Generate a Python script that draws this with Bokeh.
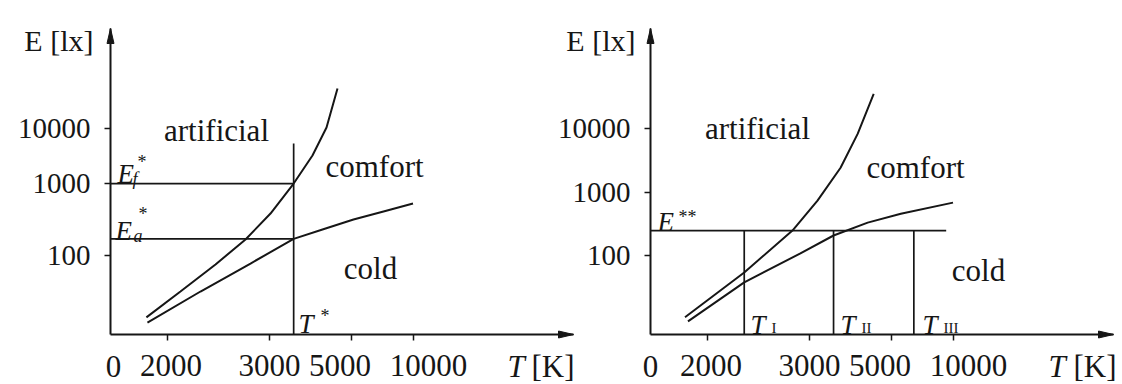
import numpy as np
from bokeh.plotting import figure
from bokeh.models import Range1d, FixedTicker, Label
from bokeh.layouts import row
from bokeh.embed import file_html
from bokeh.resources import INLINE

# ---------------- data ----------------
x_tick_T = [2000, 3000, 5000, 10000]
x_tick_labels = ["2000", "3000", "5000", "10000"]
y_tick_E = [100, 1000, 10000]
y_tick_labels = ["100", "1000", "10000"]

# left panel
left_T_star = 3400
left_Ef_star = 1000
left_Ea_star = 170
left_T_star_top_E = 5400
left_upper_T = [1874, 2091, 2374, 2685, 3014, 3400, 3795, 4155, 4488]
left_upper_E = [13.8, 31.6, 75.0, 167, 383, 1000, 3260, 10600, 54900]
left_lower_T = [1880, 2244, 2745, 3400, 4045, 5081, 6757, 10000]
left_lower_E = [11.7, 31.6, 77.4, 170, 230, 316, 409, 528]

# right panel
right_E2 = 248
right_T_marks = [2275, 3398, 6108]          # T_I, T_II, T_III
right_E2_end_T = 9000
right_upper_T = [1866, 2275, 2769, 3121, 3535, 3920, 4367]
right_upper_E = [10.6, 54, 248, 735, 2432, 8340, 35600]
right_lower_T = [1883, 2275, 2872, 3398, 4188, 5408, 10000]
right_lower_E = [9.1, 37.6, 108, 207, 331, 458, 684]

# ---------------- layout constants ----------------
X0, X1 = 592.0, -161.0        # reciprocal temperature (mired) at origin / arrow tip
YB, YT = 0.752, 5.586         # axis level at x axis / arrow tip
FW, FH = 463, 306             # axis lengths in pixels
AX_BOT, AX_TOP = 334, 28      # pixel rows of x axis and arrow tip
H = 384
FONT = "Liberation Serif"
INK = "#161616"
DXP = (X1 - X0) / FW          # data per pixel
DYP = (YT - YB) / FH
NB = "\u00a0"
PAD_L = [1, 0, 0, 4]          # label nudges (non-breaking spaces) as in the reference
PAD_R = [0, 0, 3, 0]


def mired(T):
    return 1e6 / np.asarray(T, dtype=float)


def level(E, lv):
    lg = np.log10(np.asarray(E, dtype=float))
    lo = lv[0] + (lg - 2) * (lv[1] - lv[0])
    hi = lv[1] + (lg - 3) * (lv[2] - lv[1])
    return np.where(lg < 3, lo, hi)


def make_fig(fig_left, width, origin_px, lv):
    xs = X0 + (fig_left - origin_px) * DXP
    xe = X0 + (fig_left + width - origin_px) * DXP
    yb = YB - (H - AX_BOT) * DYP
    yt = YB + AX_BOT * DYP
    p = figure(width=width, height=H, x_range=Range1d(xs, xe), y_range=Range1d(yb, yt),
               min_border=0, min_border_left=0, min_border_right=0,
               min_border_top=0, min_border_bottom=0,
               output_backend="svg", toolbar_location=None)
    p.grid.visible = False
    p.outline_line_color = None
    p.background_fill_alpha = 0
    p.border_fill_alpha = 0

    xt = [float(v) for v in mired(x_tick_T)]
    p.xaxis.ticker = FixedTicker(ticks=xt)
    p.xaxis.major_label_overrides = {
        v: NB * a + s + NB * b for v, s, a, b in zip(xt, x_tick_labels, PAD_L, PAD_R)}
    yt_ = [float(v) for v in level(y_tick_E, lv)]
    p.yaxis.ticker = FixedTicker(ticks=yt_)
    p.yaxis.major_label_overrides = {v: s for v, s in zip(yt_, y_tick_labels)}
    p.xaxis.fixed_location = YB
    p.yaxis.fixed_location = X0

    for ax in (p.xaxis, p.yaxis):
        ax.axis_line_color = None
        ax.major_tick_out = 6
        ax.major_tick_in = 0
        ax.minor_tick_out = 0
        ax.minor_tick_in = 0
        ax.major_tick_line_color = INK
        ax.major_tick_line_width = 1.5
        ax.major_label_text_font = FONT
        ax.major_label_text_color = INK
    p.xaxis.major_label_text_font_size = "31px"
    p.xaxis.major_label_standoff = 7
    p.yaxis.major_label_text_font_size = "29px"
    p.yaxis.major_label_standoff = 14

    # axis lines with arrow heads
    p.line([X0, X1], [YB, YB], line_color=INK, line_width=2)
    p.line([X0, X0], [YB, YT], line_color=INK, line_width=2)
    p.patch([X0 - 3.5 * DXP, X0, X0 + 3.5 * DXP], [YT - 15 * DYP, YT, YT - 15 * DYP],
            fill_color=INK, line_color=INK, line_width=1)
    p.patch([X1 - 15 * DXP, X1, X1 - 15 * DXP], [YB + 3.5 * DYP, YB, YB - 3.5 * DYP],
            fill_color=INK, line_color=INK, line_width=1)
    return p


def add_text(p, origin_px, text, px, py, size, align="left", baseline="middle", style="normal"):
    x = X0 + (px - origin_px) * DXP
    y = YB + (AX_BOT - py) * DYP
    p.add_layout(Label(x=x, y=y, text=text, text_font=FONT, text_font_size=f"{size}px",
                       text_font_style=style, text_align=align, text_baseline=baseline,
                       text_color=INK))


# ---------------- left panel ----------------
lvL = [2.0, 3.137, 4.0]
FL = 110
p1 = make_fig(0, 578, FL, lvL)
tS = float(mired(left_T_star))
p1.line([X0, tS], [float(level(left_Ef_star, lvL))] * 2, line_color=INK, line_width=1.7)
p1.line([X0, tS], [float(level(left_Ea_star, lvL))] * 2, line_color=INK, line_width=1.7)
p1.line([tS, tS], [YB, float(level(left_T_star_top_E, lvL))], line_color=INK, line_width=1.7)
p1.line(mired(left_upper_T), level(left_upper_E, lvL), line_color=INK, line_width=2)
p1.line(mired(left_lower_T), level(left_lower_E, lvL), line_color=INK, line_width=2)

add_text(p1, FL, "E [lx]", 93, 40, 30, align="right")
add_text(p1, FL, "artificial", 216, 130, 31, align="center")
add_text(p1, FL, "comfort", 374, 166, 31, align="center")
add_text(p1, FL, "cold", 370, 268, 31, align="center")
add_text(p1, FL, "0", 113, 366, 31, align="center")
add_text(p1, FL, "T", 507, 366, 31, style="italic")
add_text(p1, FL, "[K]", 531, 366, 31)
add_text(p1, FL, "E", 117, 173, 27, baseline="alphabetic", style="italic")
add_text(p1, FL, "f", 132, 178, 18, baseline="alphabetic", style="italic")
add_text(p1, FL, "*", 137, 161, 18, baseline="alphabetic")
add_text(p1, FL, "E", 115, 230, 27, baseline="alphabetic", style="italic")
add_text(p1, FL, "a", 133, 235, 18, baseline="alphabetic", style="italic")
add_text(p1, FL, "*", 138, 213, 18, baseline="alphabetic")
add_text(p1, FL, "T", 298, 323, 27, baseline="alphabetic", style="italic")
add_text(p1, FL, "*", 320, 315, 18, baseline="alphabetic")

# ---------------- right panel ----------------
lvR = [2.0, 3.0, 4.0]
FR = 650
p2 = make_fig(550, 572, FR, lvR)
p2.margin = (0, 0, 0, -28)
e2 = float(level(right_E2, lvR))
p2.line([X0, float(mired(right_E2_end_T))], [e2, e2], line_color=INK, line_width=1.7)
mT = mired(right_T_marks)
p2.segment(x0=mT, y0=[YB] * len(mT), x1=mT, y1=[e2] * len(mT), line_color=INK, line_width=1.7)
p2.line(mired(right_upper_T), level(right_upper_E, lvR), line_color=INK, line_width=2)
p2.line(mired(right_lower_T), level(right_lower_E, lvR), line_color=INK, line_width=2)

add_text(p2, FR, "E [lx]", 635, 40, 30, align="right")
add_text(p2, FR, "artificial", 757, 128, 31, align="center")
add_text(p2, FR, "comfort", 915, 167, 31, align="center")
add_text(p2, FR, "cold", 978, 270, 31, align="center")
add_text(p2, FR, "0", 650, 366, 31, align="center")
add_text(p2, FR, "T", 1048, 366, 31, style="italic")
add_text(p2, FR, "[K]", 1073, 366, 31)
add_text(p2, FR, "E", 657, 221, 27, baseline="alphabetic", style="italic")
add_text(p2, FR, "**", 678, 216, 18, baseline="alphabetic")
for tx, sub in zip([750, 840, 922], ["I", "II", "III"]):
    add_text(p2, FR, "T", tx, 324, 27, baseline="alphabetic", style="italic")
    add_text(p2, FR, sub, tx + 21, 327, 15, baseline="alphabetic")

layout = row(p1, p2)
open("out.html", "w").write(file_html(layout, INLINE))
